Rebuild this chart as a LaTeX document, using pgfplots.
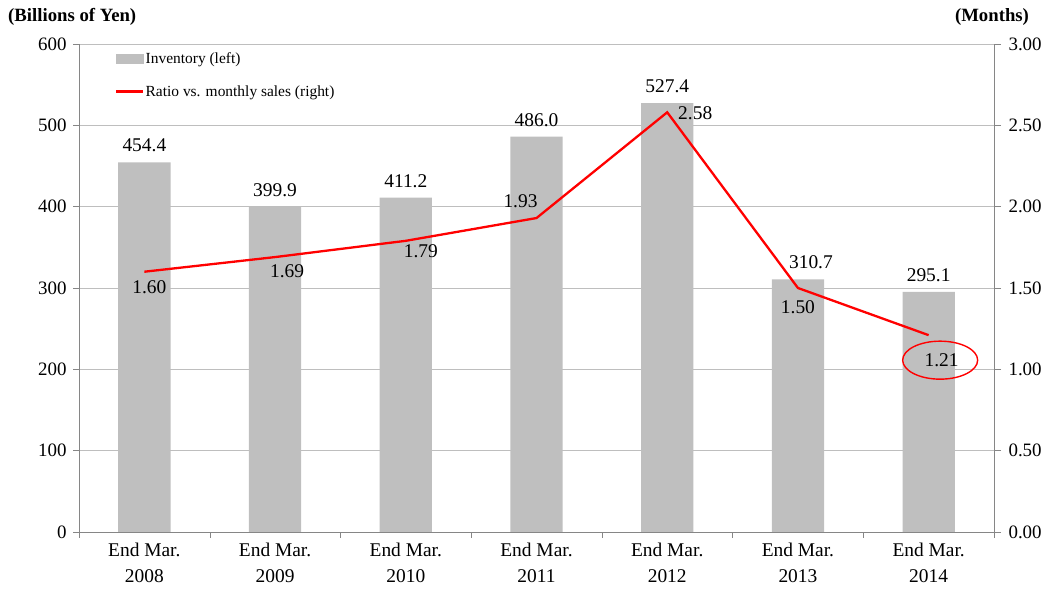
\documentclass[border=0pt]{standalone}
\usepackage{fontspec}
\setmainfont{Liberation Serif}
\usepackage{pgfplots}
\usepackage{pgfplotstable}
\pgfplotsset{compat=1.18}
\definecolor{barc}{HTML}{BFBFBF}
\definecolor{gridc}{HTML}{BEBEBE}
\definecolor{axc}{HTML}{868686}

\pgfplotstableread{
x v dx
0 454.4 0
1 399.9 0
2 411.2 0
3 486.0 0
4 527.4 0
5 310.7 13
6 295.1 0
}\inventory

\pgfplotstableread{
x r dx dy
0 1.60 5 -15.5
1 1.69 12 -14.5
2 1.79 15 -10.7
3 1.93 -16 17
4 2.58 28 -1
5 1.50 0 -19
6 1.21 13 -25
}\ratio

\begin{document}
\begin{tikzpicture}[x=1bp,y=1bp]
\path[use as bounding box] (0,0) rectangle (1054,589);
\begin{axis}[
  at={(79bp,57bp)}, anchor=south west,
  scale only axis, width=915bp, height=488bp,
  xmin=-0.5, xmax=6.5, ymin=0, ymax=600,
  axis x line*=bottom, axis y line*=left,
  axis line style={draw=axc, thin},
  ytick={0,100,...,600},
  ymajorgrids, grid style={draw=gridc, thin},
  xtick={0,...,6},
  xticklabels={{End Mar.\\2008},{End Mar.\\2009},{End Mar.\\2010},{End Mar.\\2011},{End Mar.\\2012},{End Mar.\\2013},{End Mar.\\2014}},
  xticklabel style={align=center, font=\fontsize{19.5}{26}\selectfont, yshift=-2bp},
  major x tick style={draw=none},
  minor xtick={-0.5,0.5,...,6.5},
  minor x tick style={draw=axc, thin},
  minor tick length=6bp,
  major tick length=6bp,
  tick align=outside,
  ytick style={draw=axc, thin},
  yticklabel style={font=\fontsize{19}{22}\selectfont, xshift=-3bp},
  /pgf/number format/assume math mode=true,
  clip=false,
]
\addplot[ybar, bar width=0.4, fill=barc, draw=none,
  visualization depends on={\thisrow{dx} \as \bdx},
  nodes near coords={\pgfmathprintnumber[fixed,zerofill,precision=1,assume math mode=true]{\pgfplotspointmeta}},
  every node near coord/.append style={font=\fontsize{19.5}{22}\selectfont, inner sep=0pt, anchor=south, yshift=10bp, xshift=\bdx bp, black}
] table[x=x, y=v] {\inventory};
\end{axis}
\begin{axis}[
  at={(79bp,57bp)}, anchor=south west,
  scale only axis, width=915bp, height=488bp,
  xmin=-0.5, xmax=6.5, ymin=0, ymax=3,
  axis x line=none, axis y line*=right,
  axis line style={draw=axc, thin},
  ytick={0,0.5,...,3},
  yticklabel style={font=\fontsize{19}{22}\selectfont, xshift=4bp, /pgf/number format/fixed, /pgf/number format/zerofill, /pgf/number format/precision=2},
  /pgf/number format/assume math mode=true,
  tick align=outside, major tick length=7bp,
  ytick style={draw=axc, thin},
  legend style={at={(0.039,0.986)}, anchor=north west, draw=none, fill=none,
    font=\fontsize{15.5}{18}\selectfont, row sep=17.5bp, inner sep=0pt,
    nodes={inner sep=1.5bp}},
  legend cell align=left,
  clip=false,
]
\addlegendimage{legend image code/.code={\fill[barc] (0bp,-4.6bp) rectangle (27bp,4.6bp);}}
\addlegendentry{Inventory (left)}
\addplot[red, line width=2.3bp, mark=none,
  legend image code/.code={\draw[red, line width=2.3bp] (0bp,0bp) -- (27bp,0bp);},
  visualization depends on={\thisrow{dx} \as \dx},
  visualization depends on={\thisrow{dy} \as \dy},
  point meta=explicit,
  nodes near coords={\pgfmathprintnumber[fixed,zerofill,precision=2,assume math mode=true]{\pgfplotspointmeta}},
  every node near coord/.append style={font=\fontsize{19.5}{22}\selectfont, inner sep=0pt, anchor=center, xshift=\dx bp, yshift=\dy bp, black}
] table[x=x, y=r, meta=r] {\ratio};
\addlegendentry{Ratio vs. monthly sales (right)}
\draw[red, line width=1.4bp] (axis cs:6,1.21) ++(11.5bp,-25bp) ellipse [x radius=37.5bp, y radius=19bp];
\end{axis}
\node[font=\bfseries\fontsize{18.8}{22}\selectfont, anchor=west, inner sep=0pt] at (8,572) {(Billions of Yen)};
\node[font=\bfseries\fontsize{18.8}{22}\selectfont, inner sep=0pt] at (992,572) {(Months)};
\end{tikzpicture}
\end{document}
